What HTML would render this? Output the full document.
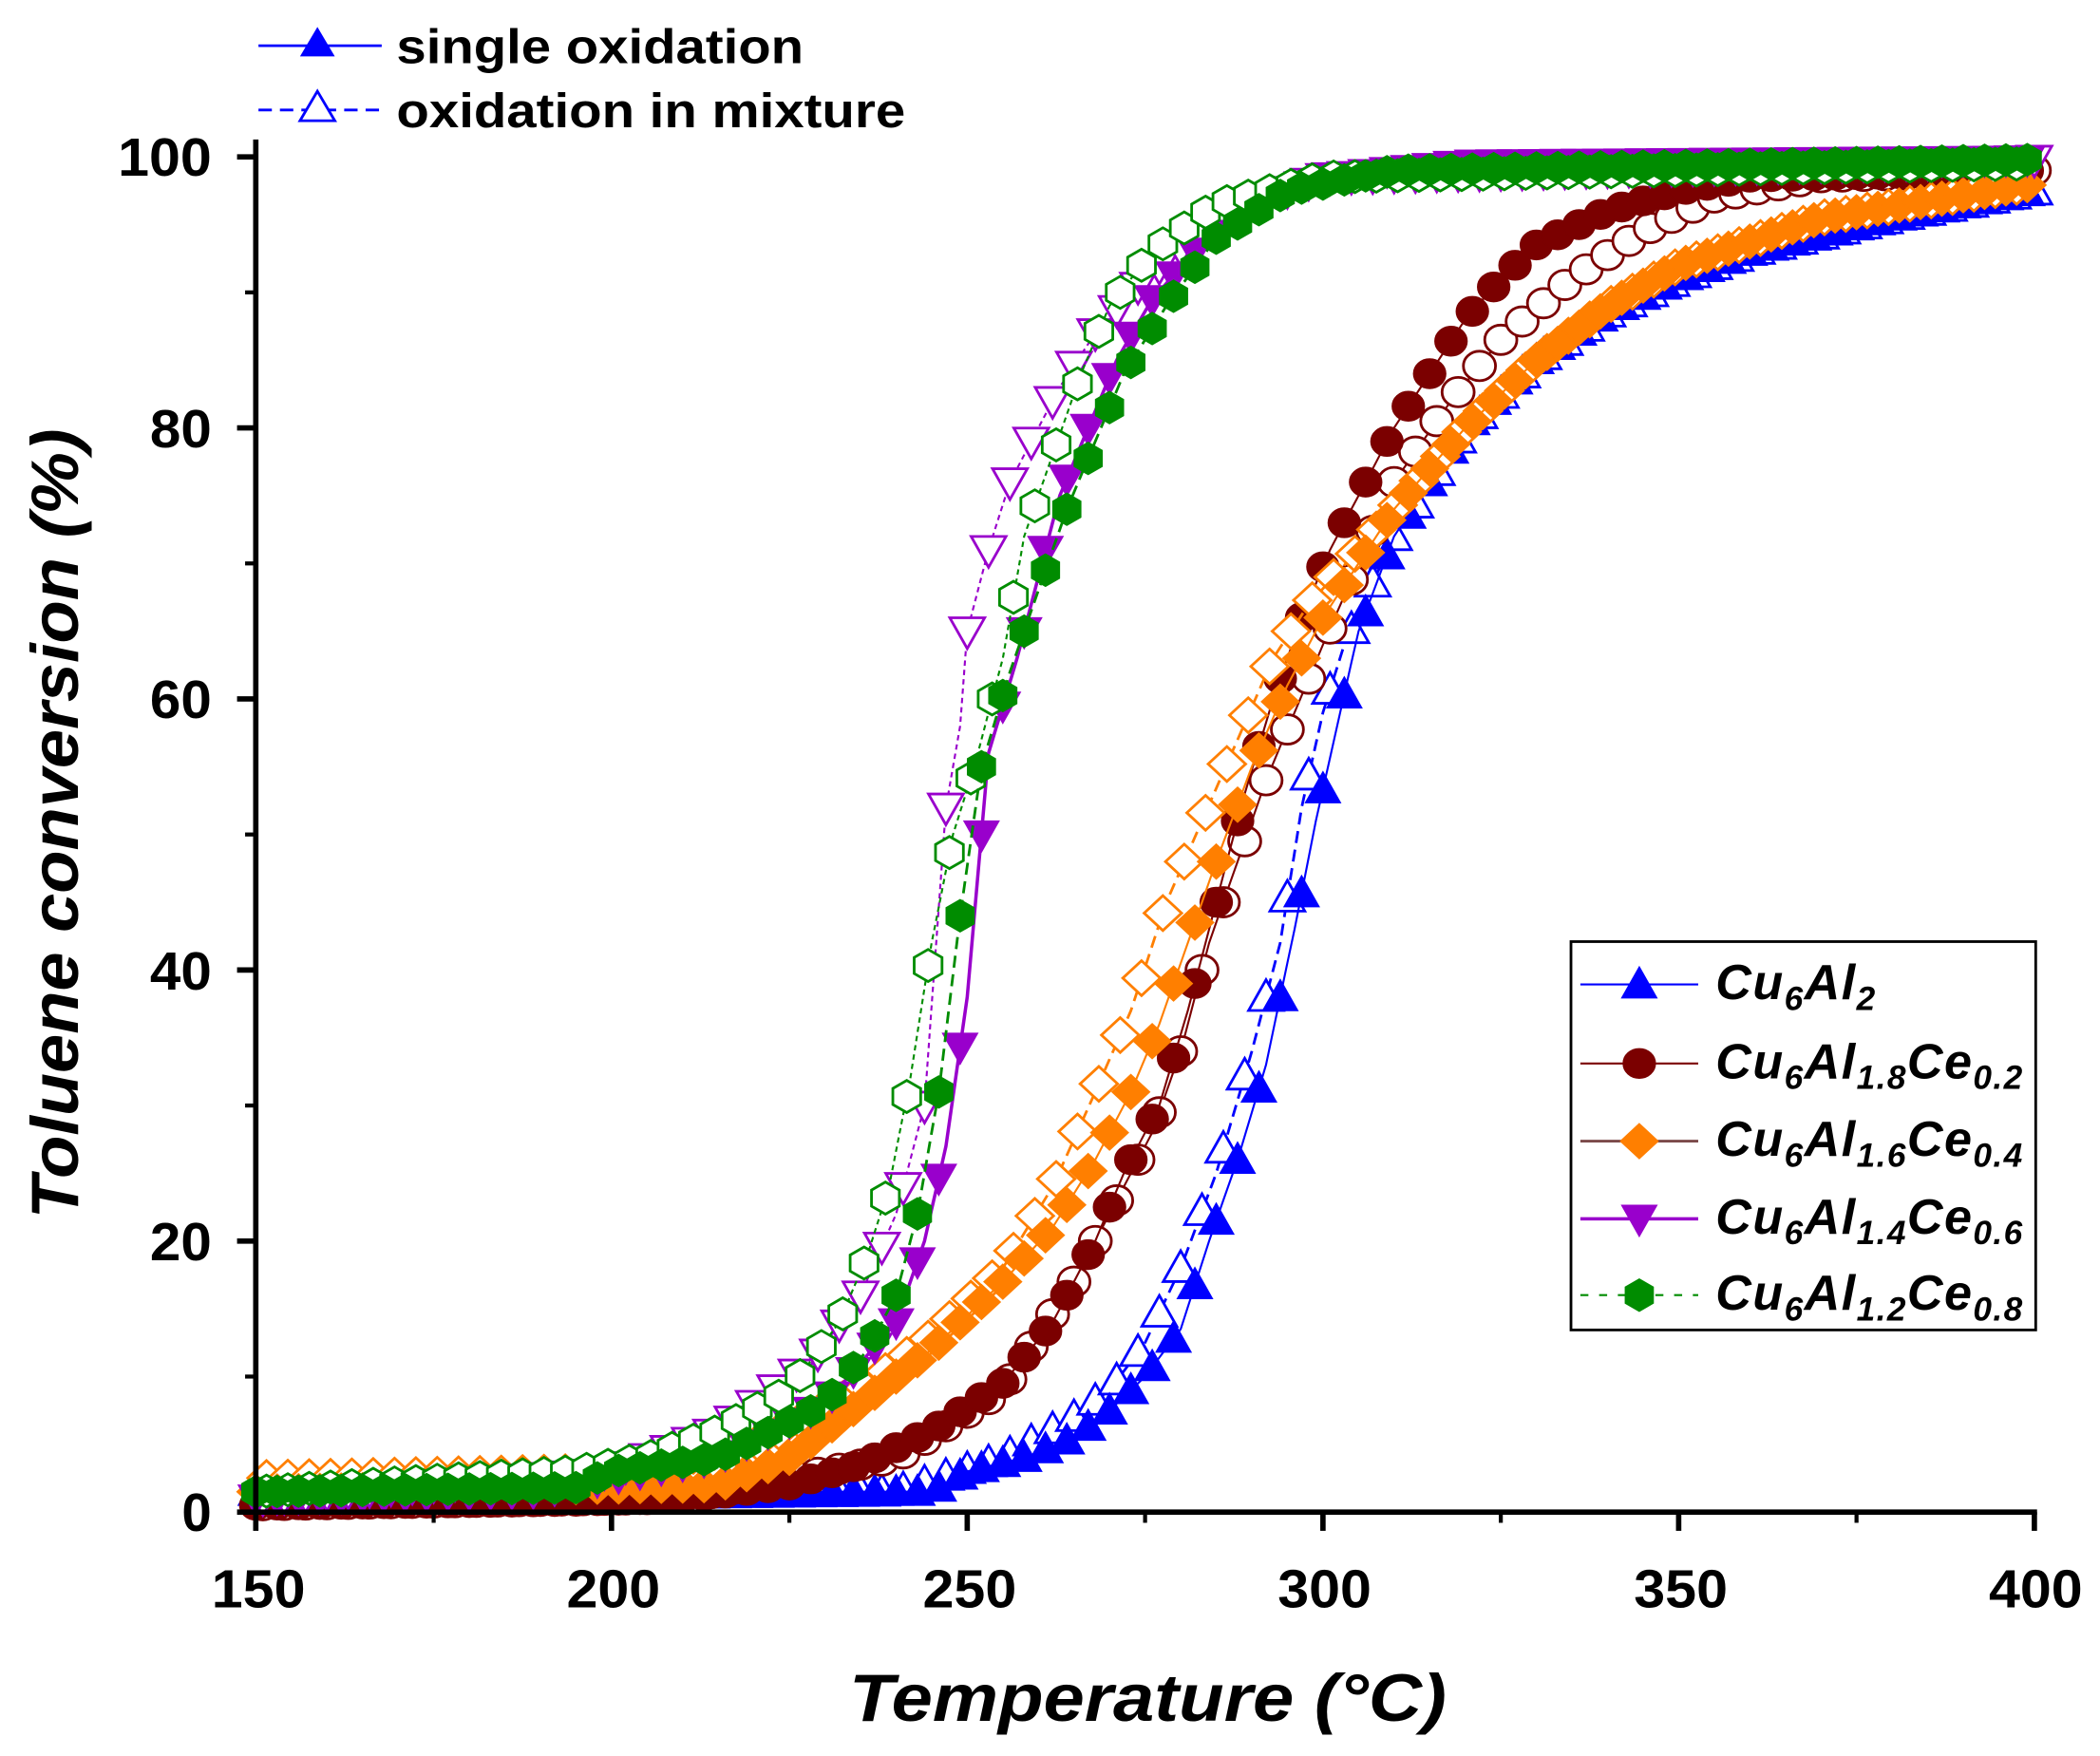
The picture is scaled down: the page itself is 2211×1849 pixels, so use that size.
<!DOCTYPE html>
<html><head><meta charset="utf-8"><style>
html,body{margin:0;padding:0;background:#fff}
svg{display:block}
text{font-family:"Liberation Sans",Arial,sans-serif;font-weight:bold}
</style></head><body>
<svg id="s" width="2211" height="1849" viewBox="0 0 1568 1311" xmlns="http://www.w3.org/2000/svg">
<rect width="1568" height="1311" fill="#fff"/>
<g id="data"></g>
<g stroke="#000" stroke-width="4" fill="none">
<line x1="191" y1="104" x2="191" y2="1131"/>
<line x1="189" y1="1129" x2="1521" y2="1129"/>
</g>
<g id="ticks" stroke="#000" fill="none"></g>
<g font-size="40" text-anchor="middle">
<text x="193" y="1200" textLength="70" lengthAdjust="spacingAndGlyphs">150</text><text x="458" y="1200" textLength="70" lengthAdjust="spacingAndGlyphs">200</text><text x="724" y="1200" textLength="70" lengthAdjust="spacingAndGlyphs">250</text>
<text x="989" y="1200" textLength="70" lengthAdjust="spacingAndGlyphs">300</text><text x="1255" y="1200" textLength="70" lengthAdjust="spacingAndGlyphs">350</text><text x="1520" y="1200" textLength="70" lengthAdjust="spacingAndGlyphs">400</text>
</g>
<g font-size="40" text-anchor="end">
<text x="158" y="1143">0</text><text x="158" y="941" textLength="46" lengthAdjust="spacingAndGlyphs">20</text><text x="158" y="739" textLength="46" lengthAdjust="spacingAndGlyphs">40</text>
<text x="158" y="536" textLength="46" lengthAdjust="spacingAndGlyphs">60</text><text x="158" y="334" textLength="46" lengthAdjust="spacingAndGlyphs">80</text><text x="158" y="131" textLength="70" lengthAdjust="spacingAndGlyphs">100</text>
</g>
<text x="634" y="1285" font-size="50" font-style="italic" textLength="446" lengthAdjust="spacingAndGlyphs">Temperature (°C)</text>
<text transform="translate(58,910) rotate(-90)" font-size="50" font-style="italic" textLength="590" lengthAdjust="spacingAndGlyphs">Toluene conversion (%)</text>
<line x1="193" y1="34" x2="285" y2="34" stroke="#0000ff" stroke-width="2"/>
<polygon points="237,20 250,42 224,42" fill="#0000ff"/>
<text x="296" y="47" font-size="36" textLength="304" lengthAdjust="spacingAndGlyphs">single oxidation</text>
<line x1="193" y1="82" x2="285" y2="82" stroke="#0000ff" stroke-width="2" stroke-dasharray="10,6"/>
<polygon points="237,68 250,90 224,90" fill="#fff" stroke="#0000ff" stroke-width="2"/>
<text x="296" y="95" font-size="36" textLength="380" lengthAdjust="spacingAndGlyphs">oxidation in mixture</text>
<rect x="1173" y="703" width="347" height="290" fill="#fff" stroke="#000" stroke-width="2"/>
<g id="leg"></g>
<g font-size="37" font-style="italic" letter-spacing="1">
<text x="1281" y="746">Cu<tspan font-size="25" dy="8">6</tspan><tspan dy="-8">Al</tspan><tspan font-size="25" dy="8">2</tspan></text>
<text x="1281" y="805">Cu<tspan font-size="25" dy="8">6</tspan><tspan dy="-8">Al</tspan><tspan font-size="25" dy="8">1.8</tspan><tspan dy="-8">Ce</tspan><tspan font-size="25" dy="8">0.2</tspan></text>
<text x="1281" y="863">Cu<tspan font-size="25" dy="8">6</tspan><tspan dy="-8">Al</tspan><tspan font-size="25" dy="8">1.6</tspan><tspan dy="-8">Ce</tspan><tspan font-size="25" dy="8">0.4</tspan></text>
<text x="1281" y="921">Cu<tspan font-size="25" dy="8">6</tspan><tspan dy="-8">Al</tspan><tspan font-size="25" dy="8">1.4</tspan><tspan dy="-8">Ce</tspan><tspan font-size="25" dy="8">0.6</tspan></text>
<text x="1281" y="978">Cu<tspan font-size="25" dy="8">6</tspan><tspan dy="-8">Al</tspan><tspan font-size="25" dy="8">1.2</tspan><tspan dy="-8">Ce</tspan><tspan font-size="25" dy="8">0.8</tspan></text>
</g>
</svg>
<script>
var NS="http://www.w3.org/2000/svg";
function X(t){return 191+(t-150)*5.312}
function Y(v){return 1129-10.12*v}
function el(p,n,a){var e=document.createElementNS(NS,n);for(var k in a)e.setAttribute(k,a[k]);p.appendChild(e);return e}
var tk=document.getElementById('ticks');
for(var t=150;t<=400;t+=25){var maj=(t%50==0);el(tk,'line',{x1:X(t),y1:1129,x2:X(t),y2:1129+(maj?14:8),'stroke-width':maj?4:3});}
for(var v=0;v<=100;v+=10){var maj=(v%20==0);el(tk,'line',{x1:191,y1:Y(v),x2:191-(maj?14:8),y2:Y(v),'stroke-width':maj?4:3});}
function interp(pts,t){for(var i=1;i<pts.length;i++){if(t<=pts[i][0]){var a=pts[i-1],b=pts[i];return a[1]+(b[1]-a[1])*(t-a[0])/(b[0]-a[0]);}}return pts[pts.length-1][1]}
function marker(g,type,x,y,col,filled){
 var f=filled?col:'#fff',a={fill:f,stroke:col,'stroke-width':filled?1:2};
 if(type=='tri'){a.points=[x,y-13,x+13,y+10,x-13,y+10].join(',');el(g,'polygon',a);}
 else if(type=='dtri'){a.points=[x,y+13,x+13,y-10,x-13,y-10].join(',');el(g,'polygon',a);}
 else if(type=='circ'){a.cx=x;a.cy=y;a.rx=12;a.ry=11;el(g,'ellipse',a);}
 else if(type=='dia'){a.points=[x,y-13,x+14,y,x,y+13,x-14,y].join(',');el(g,'polygon',a);}
 else if(type=='hex'){var p=[];for(var i=0;i<6;i++){var an=Math.PI/6+i*Math.PI/3;p.push(x+12*Math.cos(an),y+12*Math.sin(an));}a.points=p.join(',');el(g,'polygon',a);}
}
function series(pts,col,type,filled,dash,lw,step,off){
 var g=el(document.getElementById('data'),'g',{});var d='';
 for(var t=150;t<=400.01;t+=1){d+=(d?'L':'M')+X(t).toFixed(1)+','+Y(interp(pts,t)).toFixed(1);}
 var la={d:d,fill:'none',stroke:col,'stroke-width':lw};if(dash)la['stroke-dasharray']=dash;el(g,'path',la);
 for(var t=150+off;t<=400.01;t+=step){marker(g,type,X(t),Y(interp(pts,t)),col,filled);}
}
var B='#0000ff',M='#7b0000',O='#ff7f00',P='#9900cc',G='#008c00';
series([[150,1],[240,1.5],[255,4],[265,7],[270,9],[275,12.5],[280,18],[285,25],[290,34],[294,42],[297,52],[300,59],[303,64],[310,72],[315,76],[320,80],[330,85],[340,88.5],[350,91],[360,93],[380,95.5],[400,97.5]],B,'tri',false,'9,5',2,3,1);
series([[150,1.5],[245,1.5],[250,3],[258,4],[265,5.5],[270,7.5],[275,10],[280,13.5],[284,20],[288,26],[292,33],[296,43],[299,51],[302,58],[305,65],[310,72],[315,76],[320,80],[330,85],[340,88.5],[350,91],[360,93],[380,95.5],[400,97.5]],B,'tri',true,null,1.5,3,0);
series([[150,0.5],[210,1],[240,4],[255,9],[265,17],[270,22],[276,28],[280,34],[284,42],[288,48],[292,54],[296,59],[300,64],[305,70],[310,76],[318,82],[325,86.5],[335,91],[345,94.5],[355,97],[370,98.5],[400,99]],M,'circ',false,null,1.5,3,1);
series([[150,0.5],[195,0.8],[210,1],[225,2],[235,3.5],[245,6],[255,9.5],[262,14],[268,20],[272,25],[277,30],[281,37],[285,45],[289,53],[293,60],[297,66],[301,71],[305,75],[310,80],[315,84],[320,88],[325,91],[330,93.5],[340,96],[350,97.5],[360,98.5],[400,99]],M,'circ',true,null,1.5,3,0);
series([[150,2.5],[200,3],[220,5],[235,9],[245,13],[255,18],[262,24],[268,31],[273,37],[278,45],[283,51],[288,57],[293,63],[298,67],[305,71],[310,74],[320,80],[330,85],[340,89],[350,92],[370,95.5],[400,98]],O,'dia',false,'9,5',2,3,1.5);
series([[150,1.5],[215,2],[225,4],[235,8],[245,12],[255,17],[262,21],[268,26],[273,31],[277,36],[281,42],[285,48],[290,55],[295,61],[300,66],[305,70],[310,74],[320,80],[330,85],[340,89],[350,92],[370,95.5],[400,98]],O,'dia',true,null,1.5,3,0);
series([[150,1],[200,3],[215,6],[228,11],[235,16],[240,22],[244,30],[247,52],[249,58],[250,65],[253,71],[256,76],[260,80],[263,83],[268,87],[275,91],[285,95.5],[300,98.5],[400,99.8]],P,'dtri',false,'4,3',1.5,3,1);
series([[150,1],[190,1.5],[200,2.5],[215,4],[230,8],[240,14],[244,20],[247,27],[250,38],[253,56],[257,63],[260,69],[263,75],[267,80],[271,85],[276,89.5],[282,93],[290,96.5],[300,98.5],[320,99.5],[400,99.8]],P,'dtri',true,null,2.5,3,0);
series([[150,1.5],[195,3],[205,4],[215,6],[225,9],[232,14],[236,19],[239,24],[242,32],[245,42],[248,50],[251,55],[255,63],[258,72],[262,78],[266,84],[270,89],[276,93],[285,96.5],[300,98.5],[400,99.5]],G,'hex',false,'4,3',1.5,3,1.5);
series([[150,1.5],[195,1.8],[200,3],[215,4],[230,8],[236,12],[240,16],[243,22],[246,31],[249,44],[252,55],[256,62],[260,68],[264,74],[268,79],[272,84],[278,89],[285,94],[295,97.5],[310,99],[400,99.8]],G,'hex',true,'9,5',2,3,0);
var lg=document.getElementById('leg');
var rows=[[735,B,'tri',null,1.5],[794,M,'circ',null,1.5],[852,'#7b4a4a','dia',null,2],[910,P,'dtri',null,2.5],[967,G,'hex','6,8',1.5]];
var fills=[B,M,O,P,G];
rows.forEach(function(r,i){var a={x1:1180,y1:r[0],x2:1268,y2:r[0],stroke:r[1],'stroke-width':r[4]};if(r[3])a['stroke-dasharray']=r[3];el(lg,'line',a);marker(lg,r[2],1224,r[0],fills[i],true);});
</script>
</body></html>
